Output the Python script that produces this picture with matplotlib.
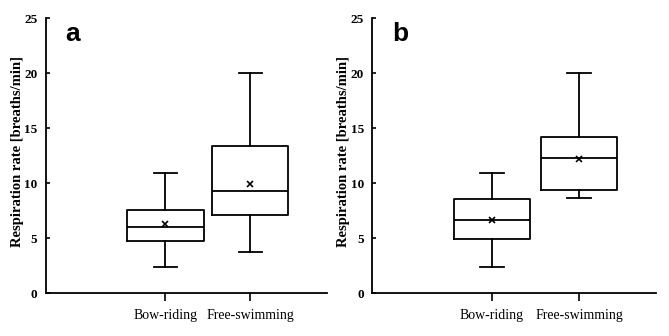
import matplotlib
matplotlib.use("Agg")
import matplotlib.pyplot as plt

# box statistics (breaths/min)
groups = ["Bow-riding", "Free-swimming"]
a_low = [2.35, 3.75]
a_q1 = [4.75, 7.1]
a_med = [6.0, 9.3]
a_q3 = [7.55, 13.4]
a_high = [10.9, 20.0]
a_mean = [6.3, 9.95]

b_low = [2.35, 8.65]
b_q1 = [4.95, 9.4]
b_med = [6.65, 12.3]
b_q3 = [8.6, 14.2]
b_high = [10.9, 20.0]
b_mean = [6.65, 12.2]

serif = "Liberation Serif"

fig = plt.figure(figsize=(6.69, 3.36), dpi=100)
ax_a = fig.add_axes([0.0683, 0.1271, 0.4200, 0.8184])
ax_b = fig.add_axes([0.5565, 0.1271, 0.4236, 0.8184])


def panel(ax, low, q1, med, q3, high, mean, letter, xlim, width, capw, labx):
    stats = []
    for i in range(len(groups)):
        stats.append(dict(whislo=low[i], q1=q1[i], med=med[i], q3=q3[i],
                          whishi=high[i], mean=mean[i], fliers=[]))
    lp = dict(color="black", linewidth=1.3)
    ax.bxp(stats, positions=[1, 2], widths=width, capwidths=capw,
           showmeans=True, showfliers=False,
           boxprops=lp, medianprops=lp, whiskerprops=lp, capprops=lp,
           meanprops=dict(marker="x", markersize=4, markeredgecolor="black",
                          markeredgewidth=1.2))
    ax.set_xlim(*xlim)
    ax.set_ylim(0, 25)
    ax.set_yticks([0, 5, 10, 15, 20, 25])
    ax.set_xticks([1, 2])
    ax.set_xticklabels(groups, fontfamily=serif, fontsize=10)
    for t in ax.get_yticklabels():
        t.set_fontfamily(serif)
        t.set_fontweight("bold")
        t.set_fontsize(9.5)
    ax.tick_params(axis="y", direction="in", length=3, width=1.2, pad=6)
    ax.tick_params(axis="x", direction="out", length=6, width=1.2, pad=5)
    ax.spines["top"].set_visible(False)
    ax.spines["right"].set_visible(False)
    ax.spines["left"].set_linewidth(1.3)
    ax.spines["bottom"].set_linewidth(1.3)
    ax.set_ylabel("Respiration rate [breaths/min]", fontfamily=serif,
                  fontweight="bold", fontsize=10.5, va="center")
    ax.yaxis.set_label_coords(labx, 0.514)
    ax.text(0.07, 0.985, letter, transform=ax.transAxes, fontfamily="Liberation Sans",
            fontweight="bold", fontsize=19, ha="left", va="top")


panel(ax_a, a_low, a_q1, a_med, a_q3, a_high, a_mean, "a", (-0.41, 2.9), 0.9, 0.27, -0.102)
panel(ax_b, b_low, b_q1, b_med, b_q3, b_high, b_mean, "b", (-0.37, 2.875), 0.87, 0.27, -0.10)

fig.savefig("out.png", dpi=100)
